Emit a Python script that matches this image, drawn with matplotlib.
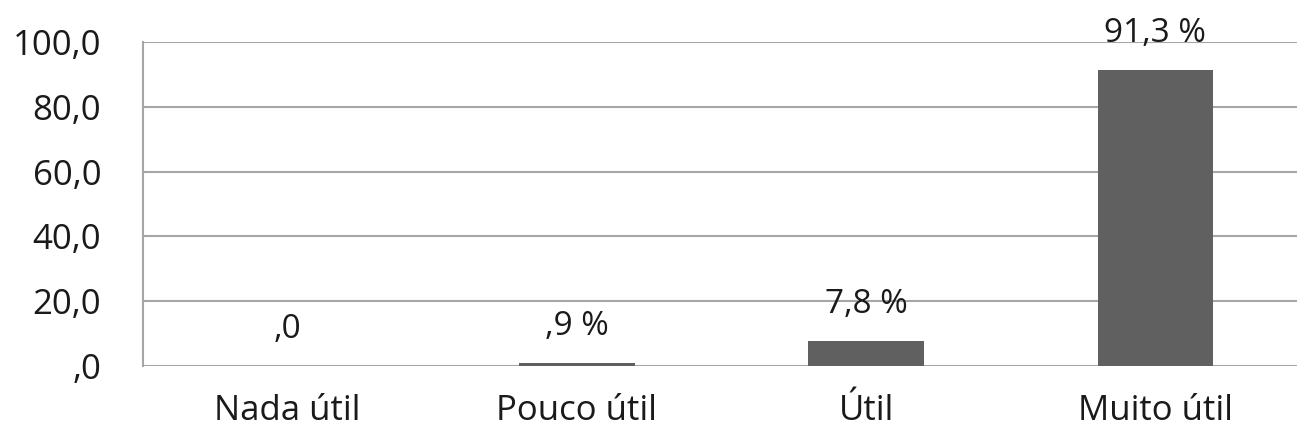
import matplotlib.pyplot as plt

categories = ["Nada útil", "Pouco útil", "Útil", "Muito útil"]
values = [0.0, 0.9, 7.8, 91.3]
value_labels = [",0", ",9 %", "7,8 %", "91,3 %"]
y_ticks = [0, 20, 40, 60, 80, 100]
y_tick_labels = [",0", "20,0", "40,0", "60,0", "80,0", "100,0"]

plt.rcParams["font.family"] = ["Open Sans", "DejaVu Sans"]

fig = plt.figure(figsize=(12.97, 4.36), dpi=100)
ax = fig.add_axes([143 / 1297, 70 / 436, 1157 / 1297, 324 / 436])

x = range(len(categories))
ax.bar(x, values, width=0.40, color="#606060", zorder=3)

for xi, v, lab in zip(x, values, value_labels):
    ax.annotate(lab, (xi, v), xytext=(0, 20), textcoords="offset points",
                ha="center", va="baseline", fontsize=24, color="#1a1a1a")

ax.set_xlim(-0.5, 3.5)
ax.set_ylim(0, 100)
ax.set_yticks(y_ticks)
ax.set_yticklabels(y_tick_labels)
ax.set_xticks(list(x))
ax.set_xticklabels(categories)
ax.tick_params(axis="y", length=0, pad=30, labelsize=25, labelcolor="#1a1a1a")
ax.tick_params(axis="x", length=0, pad=20, labelsize=25, labelcolor="#1a1a1a")

ax.grid(axis="y", color="#a6a6a6", linewidth=1.5, zorder=0)
for side in ["top", "right", "bottom"]:
    ax.spines[side].set_visible(False)
ax.spines["left"].set_color("#a6a6a6")
ax.spines["left"].set_linewidth(1.5)

fig.savefig("out.png", dpi=100)
